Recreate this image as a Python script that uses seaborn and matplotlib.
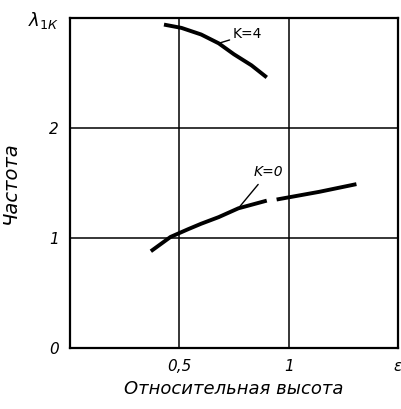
import numpy as np
import pandas as pd
import matplotlib
matplotlib.use("Agg")
import matplotlib.pyplot as plt
import seaborn as sns

# curve K=4
k4_x = [0.43, 0.51, 0.60, 0.68, 0.75, 0.83, 0.90]
k4_y = [2.94, 2.91, 2.85, 2.77, 2.67, 2.57, 2.46]
# curve K=0 (drawn in two pieces, as in the source)
k0a_x = [0.37, 0.46, 0.54, 0.60, 0.68, 0.77, 0.90]
k0a_y = [0.88, 1.01, 1.08, 1.13, 1.19, 1.27, 1.34]
k0b_x = [0.945, 1.14, 1.31]
k0b_y = [1.35, 1.42, 1.49]

x_ticks = [0.5, 1.0, 1.5]
x_labels = ["0,5", "1", "ε"]
y_ticks = [0, 1, 2, 3]
y_labels = ["0", "1", "2", r"$\lambda_{1К}$"]

sns.set_style("white")
plt.rcParams["font.family"] = ["DejaVu Sans"]
plt.rcParams["mathtext.fontset"] = "dejavusans"
plt.rcParams["text.color"] = "black"

fig, ax = plt.subplots(figsize=(4.02, 4.09), dpi=100)
fig.subplots_adjust(left=0.174, right=0.99, top=0.956, bottom=0.149)

segs = [("K=4", k4_x, k4_y), ("K=0a", k0a_x, k0a_y), ("K=0b", k0b_x, k0b_y)]
for name, xs, ys in segs:
    df = pd.DataFrame({"x": xs, "y": ys})
    sns.lineplot(data=df, x="x", y="y", ax=ax, color="black", lw=2.8,
                 sort=True, estimator=None, solid_capstyle="butt")

ax.set_xlim(0, 1.5)
ax.set_ylim(0, 3)
ax.set_xticks(x_ticks)
ax.set_xticklabels(x_labels, style="italic", fontsize=11, color="black")
ax.set_yticks(y_ticks)
ax.set_yticklabels(y_labels, style="italic", fontsize=11, color="black")
ax.get_yticklabels()[-1].set_fontsize(13)
ax.tick_params(length=0, pad=8)
for s in ax.spines.values():
    s.set_color("black")
    s.set_linewidth(1.6)
for v in [0.5, 1.0]:
    ax.axvline(v, color="black", lw=1.1, zorder=0)
for h in [1, 2]:
    ax.axhline(h, color="black", lw=1.1, zorder=0)

ax.set_xlabel("Относительная высота", style="italic", fontsize=13,
              labelpad=4, color="black")
ax.set_ylabel("Частота", style="italic", fontsize=14, labelpad=6,
              color="black")

# labels with leader lines
ax.annotate("K=4", xy=(0.68, 2.77), xytext=(0.745, 2.85), fontsize=10,
            va="center", arrowprops=dict(arrowstyle="-", color="black", lw=1,
                                         shrinkA=0, shrinkB=0))
ax.annotate("K=0", xy=(0.77, 1.27), xytext=(0.84, 1.60), fontsize=10,
            style="italic", va="center",
            arrowprops=dict(arrowstyle="-", color="black", lw=1,
                            shrinkA=2, shrinkB=0))

fig.savefig("out.png", dpi=100)
